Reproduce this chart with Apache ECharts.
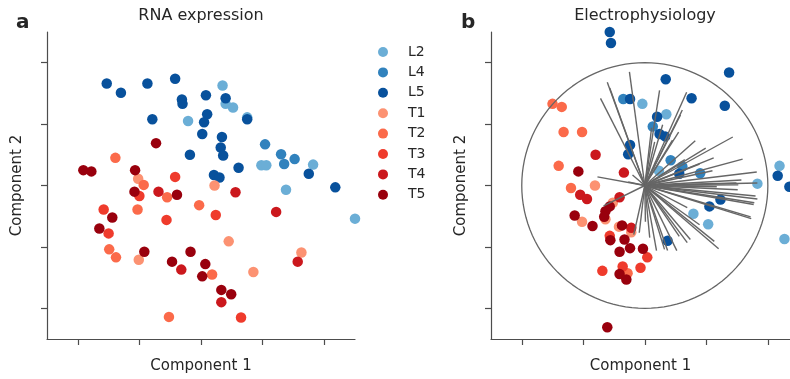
<!DOCTYPE html>
<html>
<head>
<meta charset="utf-8">
<title>RNA expression / Electrophysiology</title>
<script src="https://cdn.jsdelivr.net/npm/echarts@6/dist/echarts.min.js"></script>
<style>
  html, body { margin: 0; padding: 0; background: #fff; }
  #chart { width: 790px; height: 379px; }
</style>
</head>
<body>
<div id="chart"></div>
<script>
// cell type groups and their colours
const groups = ["L2", "L4", "L5", "T1", "T2", "T3", "T4", "T5"];
const groupColors = ["#6baed6", "#3182bd", "#08519c", "#fc9272", "#fb6a4a", "#ef3b2c", "#cb181d", "#99000d"];
const tickValues = [-2, -1, 0, 1, 2];

// panel a: RNA expression, [component 1, component 2]
const rnaL2 = [[0.35, 1.63], [0.40, 1.33], [0.52, 1.27], [-0.21, 1.05], [0.75, 1.11], [1.82, 0.34],
  [0.98, 0.33], [1.06, 0.33], [1.38, -0.07], [2.5, -0.54]];
const rnaL4 = [[1.04, 0.67], [1.30, 0.51], [1.52, 0.43], [1.35, 0.35]];
const rnaL5 = [[-1.53, 1.66], [-1.30, 1.51], [-0.87, 1.66], [-0.42, 1.74], [-0.31, 1.40], [-0.30, 1.33],
  [0.08, 1.47], [0.40, 1.42], [-0.79, 1.08], [0.10, 1.16], [0.05, 1.03], [0.75, 1.08], [0.02, 0.84],
  [0.34, 0.79], [0.32, 0.62], [0.36, 0.49], [-0.18, 0.50], [0.61, 0.29], [1.75, 0.19], [0.21, 0.17],
  [0.30, 0.13], [2.18, -0.03]];
const rnaT1 = [[-1.02, 0.11], [0.22, 0.0], [0.45, -0.91], [-1.01, -1.21], [0.85, -1.41], [1.63, -1.09]];
const rnaT2 = [[-1.39, 0.45], [-0.93, 0.01], [-0.55, -0.19], [-0.03, -0.32], [-1.03, -0.39], [-1.49, -1.04],
  [-1.38, -1.17], [0.18, -1.45], [-0.52, -2.14]];
const rnaT3 = [[-0.42, 0.14], [-1.00, -0.17], [0.24, -0.48], [-1.58, -0.39], [-0.56, -0.56], [-1.50, -0.78],
  [0.65, -2.15]];
const rnaT4 = [[0.56, -0.11], [-0.69, -0.10], [1.22, -0.43], [-0.32, -1.37], [1.57, -1.24], [0.33, -1.90]];
const rnaT5 = [[-0.73, 0.69], [-1.91, 0.25], [-1.78, 0.23], [-1.07, 0.25], [-1.08, -0.10], [-0.39, -0.15],
  [-1.44, -0.52], [-1.65, -0.70], [-0.92, -1.08], [-0.17, -1.08], [-0.47, -1.24], [0.07, -1.28],
  [0.02, -1.48], [0.33, -1.70], [0.49, -1.77]];

// panel b: electrophysiology, [component 1, component 2]
const ephysL2 = [[-0.04, 1.33], [0.35, 1.16], [0.23, 0.24], [1.83, 0.03], [2.19, 0.32], [0.79, -0.46],
  [1.03, -0.63], [2.27, -0.87]];
const ephysL4 = [[-0.35, 1.41], [0.13, 0.96], [0.42, 0.41], [0.61, 0.31], [0.90, 0.20]];
const ephysL5 = [[-0.57, 2.5], [-0.55, 2.32], [1.37, 1.84], [0.34, 1.73], [0.76, 1.42], [1.30, 1.30],
  [-0.24, 1.41], [0.20, 1.12], [0.24, 0.84], [0.33, 0.80], [-0.24, 0.66], [-0.27, 0.51], [0.56, 0.19],
  [2.16, 0.16], [2.35, -0.02], [0.37, -0.90], [1.05, -0.34], [1.23, -0.23]];
const ephysT1 = [[-0.81, 0.0], [-0.52, -0.28], [-0.64, -0.55], [-1.02, -0.59], [-0.42, -0.67], [-0.22, -0.76]];
const ephysT2 = [[-1.50, 1.33], [-1.35, 1.28], [-1.32, 0.87], [-1.02, 0.87], [-1.40, 0.32], [-1.20, -0.04],
  [-0.28, -1.43]];
const ephysT3 = [[-0.57, -0.82], [0.04, -1.17], [-0.69, -1.39], [-0.36, -1.32], [-0.07, -1.34]];
const ephysT4 = [[-0.80, 0.50], [-0.34, 0.21], [-1.05, -0.15], [-0.94, -0.22], [-0.41, -0.19], [-0.22, -0.69]];
const ephysT5 = [[-1.08, 0.23], [-0.57, -0.34], [-0.64, -0.42], [-0.66, -0.51], [-1.14, -0.49], [-0.85, -0.66],
  [-0.37, -0.65], [-0.56, -0.89], [-0.33, -0.88], [-0.24, -1.02], [-0.41, -1.08], [-0.03, -1.03],
  [-0.41, -1.44], [-0.30, -1.53], [-0.61, -2.31]];

// feature loadings (line end points from the origin) and the unit circle radius
const loadings = [[-0.25, 1.85], [-0.61, 1.68], [-0.57, 1.59], [-0.72, 1.42], [0.24, 1.55], [0.68, 1.52],
  [0.61, 1.23], [0.58, 1.15], [0.55, 0.87], [0.45, 0.74], [0.16, 0.71], [0.11, 0.94], [0.29, 0.99],
  [1.43, 0.79], [0.82, 0.73], [0.99, 0.61], [1.12, 0.45], [1.59, 0.43], [1.82, 0.22], [1.10, 0.24],
  [1.57, 0.09], [1.49, 0.04], [1.83, 0.04], [-0.77, 0.14], [-0.20, 0.17], [-0.27, 0.06], [1.17, -0.02],
  [1.52, 0.01], [1.51, -0.07], [1.80, -0.17], [1.83, -0.22], [1.78, -0.28], [1.77, -0.31], [1.72, -0.51],
  [1.73, -0.54], [0.69, -0.36], [1.13, -0.91], [1.20, -1.03], [0.74, -0.88], [0.69, -0.93], [0.56, -0.83],
  [0.52, -1.06], [0.37, -1.06], [0.32, -1.04], [0.19, -1.06], [0.08, -0.85], [-0.09, -0.77], [-0.18, -0.80],
  [-0.67, -0.33], [0.01, -0.59], [0.89, -0.64], [0.65, 0.42], [0.89, 0.35]];
const circleRadius = 2;

const rnaSets = [rnaL2, rnaL4, rnaL5, rnaT1, rnaT2, rnaT3, rnaT4, rnaT5];
const ephysSets = [ephysL2, ephysL4, ephysL5, ephysT1, ephysT2, ephysT3, ephysT4, ephysT5];

const axisColor = "#4d4d4d";
const textColor = "#262626";
const fontFamily = "DejaVu Sans";

function makeAxis(gridIndex, name, isY, maxVal) {
  return {
    type: "value",
    gridIndex: gridIndex,
    min: -2.5,
    max: maxVal,
    name: name,
    nameLocation: "middle",
    nameGap: isY ? 22 : 20,
    nameTextStyle: { color: textColor, fontSize: 15, fontFamily: fontFamily },
    axisLine: { show: true, onZero: false, lineStyle: { color: axisColor, width: 1.2 } },
    axisTick: { show: true, customValues: tickValues, length: 6, lineStyle: { color: axisColor, width: 1.2 } },
    axisLabel: { show: false },
    splitLine: { show: false },
  };
}

function scatterSeries(sets, axisIndex) {
  return sets.map(function (d, i) {
    return {
      name: groups[i],
      type: "scatter",
      xAxisIndex: axisIndex,
      yAxisIndex: axisIndex,
      data: d,
      symbolSize: 10.5,
      clip: false,
      itemStyle: { color: groupColors[i], opacity: 1 },
      emphasis: { disabled: true },
      z: 2,
    };
  });
}

const circlePts = [];
for (let i = 0; i <= 120; i++) {
  const a = (i / 120) * Math.PI * 2;
  circlePts.push([circleRadius * Math.cos(a), circleRadius * Math.sin(a)]);
}

const option = {
  animation: false,
  backgroundColor: "#fff",
  textStyle: { fontFamily: fontFamily },
  title: [
    { text: "RNA expression", left: 201, top: 8, textAlign: "center", padding: 0,
      textStyle: { color: textColor, fontSize: 16, fontWeight: "normal", fontFamily: fontFamily } },
    { text: "Electrophysiology", left: 645, top: 8, textAlign: "center", padding: 0,
      textStyle: { color: textColor, fontSize: 16, fontWeight: "normal", fontFamily: fontFamily } },
    { text: "a", left: 16, top: 13, padding: 0,
      textStyle: { color: textColor, fontSize: 20, fontWeight: "bold", fontFamily: fontFamily } },
    { text: "b", left: 461, top: 13, padding: 0,
      textStyle: { color: textColor, fontSize: 20, fontWeight: "bold", fontFamily: fontFamily } },
  ],
  legend: {
    data: groups,
    orient: "vertical",
    left: 378,
    top: 45,
    padding: 0,
    itemWidth: 10,
    itemHeight: 10,
    itemGap: 6.4,
    icon: "circle",
    selectedMode: false,
    textStyle: { color: textColor, fontSize: 14, fontFamily: fontFamily, padding: [0, 0, 0, 15] },
  },
  grid: [
    { left: 47, top: 32, width: 308, height: 307 },
    { left: 491, top: 32, right: 0, height: 307 },
  ],
  xAxis: [makeAxis(0, "Component 1", false, 2.5), makeAxis(1, "Component 1", false, 2.36)],
  yAxis: [makeAxis(0, "Component 2", true, 2.5), makeAxis(1, "Component 2", true, 2.5)],
  series: scatterSeries(rnaSets, 0)
    .concat(scatterSeries(ephysSets, 1))
    .concat([
      {
        type: "lines",
        coordinateSystem: "cartesian2d",
        xAxisIndex: 1,
        yAxisIndex: 1,
        data: loadings.map(function (p) { return { coords: [[0, 0], p] }; }),
        lineStyle: { color: "#666666", width: 1.4, opacity: 1 },
        silent: true,
        z: 5,
      },
      {
        type: "line",
        xAxisIndex: 1,
        yAxisIndex: 1,
        data: circlePts,
        showSymbol: false,
        symbol: "none",
        lineStyle: { color: "#666666", width: 1.3 },
        silent: true,
        z: 5,
      },
    ]),
};

const chart = echarts.init(document.getElementById("chart"));
chart.setOption(option);
</script>
</body>
</html>
